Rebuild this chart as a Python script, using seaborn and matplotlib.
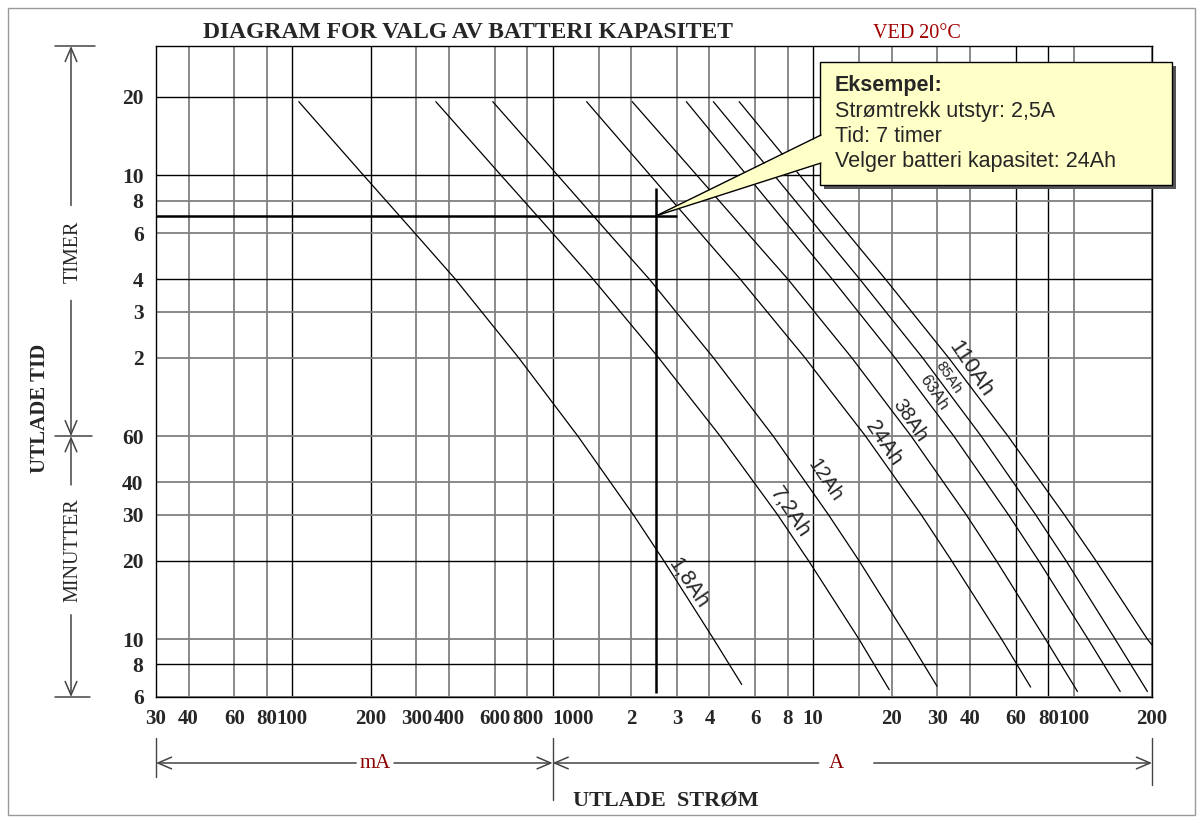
import matplotlib
matplotlib.use("Agg")
import matplotlib.pyplot as plt
import matplotlib.transforms as mtransforms
from matplotlib.patches import Rectangle, Polygon
from matplotlib.lines import Line2D
from matplotlib.ticker import FixedLocator, FixedFormatter, NullLocator
import pandas as pd
import seaborn as sns

# utladekurver: tid i minutter mot strøm i A
tid_18 = [1150, 600, 360, 240, 120, 60, 30, 20, 10, 6.7]
strom_18 = [0.106, 0.188, 0.296, 0.423, 0.74, 1.25, 2.04, 2.67, 4.15, 5.32]

tid_72 = [1150, 600, 360, 240, 120, 60, 30, 20, 10, 6.4]
strom_72 = [0.356, 0.634, 1.0, 1.43, 2.55, 4.4, 7.3, 9.6, 15.0, 19.6]

tid_12 = [1150, 600, 360, 240, 120, 60, 30, 20, 10, 6.6]
strom_12 = [0.589, 1.046, 1.64, 2.35, 4.14, 7.03, 11.45, 15.0, 23.2, 29.9]

tid_24 = [1150, 600, 360, 240, 120, 60, 30, 20, 10, 6.55]
strom_24 = [1.35, 2.37, 3.69, 5.25, 9.3, 15.9, 26.0, 34.0, 52.9, 68.4]

tid_38 = [1150, 600, 360, 240, 120, 60, 30, 20, 10, 6.3]
strom_38 = [2.02, 3.58, 5.6, 8.0, 14.06, 23.8, 38.7, 50.5, 78, 103.5]

tid_63 = [1150, 600, 360, 240, 120, 60, 30, 20, 10, 6.3]
strom_63 = [3.26, 5.57, 8.48, 11.84, 20.6, 34.7, 56.2, 73.4, 113.7, 151]

tid_85 = [1150, 600, 360, 240, 120, 60, 30, 20, 10, 6.3]
strom_85 = [4.14, 7.09, 10.81, 15.1, 26.3, 44.2, 71.5, 93.5, 144.4, 192]

tid_110 = [1150, 600, 360, 240, 120, 60, 30, 20, 10, 9.5]
strom_110 = [5.2, 8.89, 13.55, 18.95, 33.1, 56.0, 92.1, 121.8, 192, 200]

kapasiteter = ["1,8Ah", "7,2Ah", "12Ah", "24Ah", "38Ah", "63Ah", "85Ah", "110Ah"]
kurver = [(tid_18, strom_18), (tid_72, strom_72), (tid_12, strom_12), (tid_24, strom_24),
          (tid_38, strom_38), (tid_63, strom_63), (tid_85, strom_85), (tid_110, strom_110)]

# etikett-plassering langs kurvene
etikett_strom = [3.32, 8.09, 11.1, 18.7, 23.5, 29.1, 33.2, 40.0]
etikett_tid = [16.4, 30.5, 40.7, 56, 69, 88, 101, 109]
etikett_str = [15.5, 15.5, 14.5, 15.5, 14.5, 12, 11, 16]

# akser
x_ticks = [0.03, 0.04, 0.06, 0.08, 0.1, 0.2, 0.3, 0.4, 0.6, 0.8, 1, 1.5, 2, 3, 4, 6, 8, 10,
           15, 20, 30, 40, 60, 80, 100, 200]
x_labels = ["30", "40", "60", "80", "100", "200", "300", "400", "600", "800", "1000", "",
            "2", "3", "4", "6", "8", "10", "", "20", "30", "40", "60", "80", "100", "200"]
y_ticks = [6, 8, 10, 20, 30, 40, 60, 120, 180, 240, 360, 480, 600, 1200]
y_labels = ["6", "8", "10", "20", "30", "40", "60", "2", "3", "4", "6", "8", "10", "20"]
x_svart = [0.1, 0.2, 1, 10, 60, 80]
y_svart = [8, 20, 240, 600, 1200]

# eksempel
eks_strom = 2.5
eks_tid = 420

rows = []
for kap, (t, s) in zip(kapasiteter, kurver):
    for ti, si in zip(t, s):
        rows.append({"kap": kap, "tid": ti, "strom": si})
df = pd.DataFrame(rows)

sns.set_style("white")
plt.rcParams['font.family'] = ['Liberation Serif', 'DejaVu Serif']

W, H = 1203, 823
fig = plt.figure(figsize=(W / 100, H / 100), dpi=100)
ax = fig.add_axes([156 / W, (H - 697) / H, (1152 - 156) / W, (697 - 46) / H])
ax.set_xscale("log")
ax.set_yscale("log")
ax.set_xlim(0.03, 200)
ax.set_ylim(6, 1880)

sns.lineplot(data=df, x="strom", y="tid", units="kap", estimator=None, sort=False,
             color="black", linewidth=0.9, legend=False, ax=ax, zorder=3)

ax.xaxis.set_major_locator(FixedLocator(x_ticks))
ax.xaxis.set_major_formatter(FixedFormatter(x_labels))
ax.xaxis.set_minor_locator(NullLocator())
ax.yaxis.set_major_locator(FixedLocator(y_ticks))
ax.yaxis.set_major_formatter(FixedFormatter(y_labels))
ax.yaxis.set_minor_locator(NullLocator())
ax.set_xlabel("")
ax.set_ylabel("")
ax.tick_params(axis="x", length=0, pad=9, labelsize=15)
ax.tick_params(axis="y", length=4, width=1, pad=5, labelsize=15.5, direction="out")
for lbl in ax.get_xticklabels() + ax.get_yticklabels():
    lbl.set_fontweight("bold")
ax.get_xticklabels()[x_labels.index("1000")].set_ha("left")

ax.grid(True, which="major", color="#808080", linewidth=1.3)
for val, gl in zip(x_ticks, ax.get_xgridlines()):
    if val in x_svart:
        gl.set_color("black")
        gl.set_linewidth(1.0)
for val, gl in zip(y_ticks, ax.get_ygridlines()):
    if val in y_svart:
        gl.set_color("black")
        gl.set_linewidth(1.0)
for sp in ax.spines.values():
    sp.set_visible(True)
    sp.set_color("black")
    sp.set_linewidth(1.0)

# kurve-etiketter
for txt, s, t, fs in zip(kapasiteter, etikett_strom, etikett_tid, etikett_str):
    ax.text(s, t, txt, rotation=-56, rotation_mode="anchor", ha="center", va="center",
            fontsize=fs, family=["Liberation Sans", "DejaVu Sans"], zorder=5)

# eksempel-linjer
ax.hlines(eks_tid, 0.03, 3.0, color="black", linewidth=1.8, zorder=4)
ax.vlines(eks_strom, 6.2, 535, color="black", linewidth=1.8, zorder=4)

# titler
fig.text(468 / W, 1 - 33 / H, "DIAGRAM FOR VALG AV BATTERI KAPASITET", ha="center", va="center",
         fontsize=17, fontweight="bold")
fig.text(917 / W, 1 - 33 / H, "VED 20°C", ha="center", va="center", fontsize=14.5, color="#a00000")

# venstre side
fig.text(40 / W, 1 - 408 / H, "UTLADE TID", rotation=90, ha="center", va="center",
         fontsize=15, fontweight="bold")
fig.text(73 / W, 1 - 252 / H, "TIMER", rotation=90, ha="center", va="center", fontsize=14.5)
fig.text(73 / W, 1 - 550 / H, "MINUTTER", rotation=90, ha="center", va="center", fontsize=14.5)

ty = mtransforms.blended_transform_factory(fig.transFigure, ax.transData)
pil = dict(arrowstyle="->,head_length=0.7,head_width=0.3", color="#444444", lw=1.1,
           shrinkA=0, shrinkB=0, mutation_scale=14)
xa = 71 / W
for t0, t1 in [(460, 1880), (199, 60), (39, 60), (12.4, 6)]:
    ax.annotate("", xy=(xa, t1), xytext=(xa, t0), xycoords=ty, textcoords=ty,
                arrowprops=pil, annotation_clip=False)
for t0, xl, xr in [(1880, 55, 95), (60, 55, 92), (6, 55, 90)]:
    fig.add_artist(Line2D([xl / W, xr / W], [t0, t0], transform=ty, color="#444444", lw=1.1))

# nederste pilrad
tx = mtransforms.blended_transform_factory(ax.transData, fig.transFigure)
yp = (H - 763) / H
for s0, s1 in [(0.176, 0.03), (0.246, 1), (10.5, 1), (17.1, 200)]:
    ax.annotate("", xy=(s1, yp), xytext=(s0, yp), xycoords=tx, textcoords=tx,
                arrowprops=pil, annotation_clip=False)
for s0, ylo in [(0.03, 777), (1, 800), (200, 785)]:
    fig.add_artist(Line2D([s0, s0], [(H - 738) / H, (H - ylo) / H], transform=tx,
                          color="#444444", lw=1.0))
ax.text(0.208, yp, "mA", transform=tx, ha="center", va="center", fontsize=15, color="#8b0000")
ax.text(12.3, yp, "A", transform=tx, ha="center", va="center", fontsize=15, color="#8b0000")
ax.text(2.73, (H - 800) / H, "UTLADE  STRØM", transform=tx, ha="center", va="center",
        fontsize=16, fontweight="bold")

# forklaringsboks
gul = "#ffffc8"
fig.add_artist(Rectangle((824 / W, (H - 189) / H), 352 / W, 123 / H, transform=fig.transFigure,
                         facecolor="#555555", edgecolor="none"))
fig.add_artist(Rectangle((820 / W, (H - 185) / H), 352 / W, 123 / H, transform=fig.transFigure,
                         facecolor=gul, edgecolor="black", linewidth=1.0))
tip = fig.transFigure.inverted().transform(ax.transData.transform((eks_strom, eks_tid)))
b1 = (821 / W, (H - 135) / H)
b2 = (821 / W, (H - 163) / H)
fig.add_artist(Polygon([(823 / W, b1[1]), tuple(tip), (823 / W, b2[1])], closed=True,
                       transform=fig.transFigure, facecolor=gul, edgecolor="none"))
for b in (b1, b2):
    fig.add_artist(Line2D([b[0], tip[0]], [b[1], tip[1]], transform=fig.transFigure,
                          color="black", lw=1.0))
linjer = ["Eksempel:", "Strømtrekk utstyr: 2,5A", "Tid: 7 timer", "Velger batteri kapasitet: 24Ah"]
for i, ln in enumerate(linjer):
    fig.text(835 / W, 1 - (86 + 25 * i) / H, ln, ha="left", va="center", fontsize=15.5,
             family=["Liberation Sans", "DejaVu Sans"], fontweight="bold" if i == 0 else "normal")

# ramme
fig.add_artist(Rectangle((8 / W, 8 / H), 1187 / W, 807 / H, transform=fig.transFigure,
                         fill=False, edgecolor="#999999", linewidth=1.0))

fig.savefig("out.png", dpi=100)
